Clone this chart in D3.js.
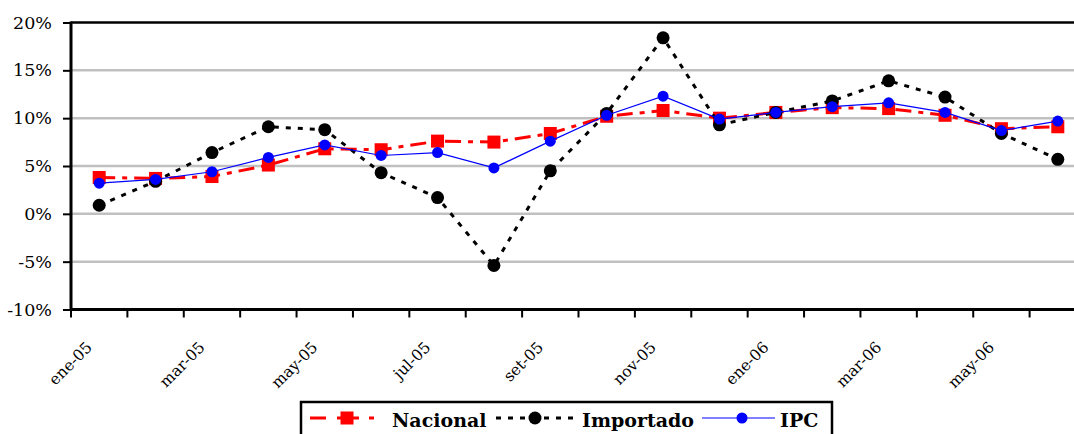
<!DOCTYPE html>
<html><head><meta charset="utf-8">
<script src="https://cdn.jsdelivr.net/npm/d3@7"></script>
<style>body{margin:0;background:#fff}svg{display:block}</style>
</head><body>
<script>
const months = ["ene-05","feb-05","mar-05","abr-05","may-05","jun-05","jul-05","ago-05","set-05","oct-05","nov-05","dic-05","ene-06","feb-06","mar-06","abr-06","may-06","jun-06"];
const tickLabels = ["ene-05","mar-05","may-05","jul-05","set-05","nov-05","ene-06","mar-06","may-06"];
const nacional = [3.8,3.7,3.9,5.1,6.8,6.7,7.6,7.5,8.4,10.2,10.8,10.0,10.6,11.1,11.0,10.3,8.9,9.1];
const importado = [0.9,3.4,6.4,9.1,8.8,4.3,1.7,-5.4,4.5,10.5,18.4,9.3,10.6,11.8,13.9,12.2,8.4,5.7];
const ipc = [3.2,3.6,4.4,5.9,7.2,6.1,6.4,4.8,7.6,10.3,12.3,9.9,10.6,11.2,11.6,10.6,8.7,9.7];
const yTicks = [-10,-5,0,5,10,15,20];
const seriesNames = ["Nacional","Importado","IPC"];

const W=1074,H=434;
const FONT="DejaVu Serif";
const svg=d3.select("body").append("svg").attr("width",W).attr("height",H);
const x=d3.scaleBand().domain(months).range([71,1086]);
const y=d3.scaleLinear().domain([-10,20]).range([309.5,22.5]);

svg.append("g").selectAll("line").data(yTicks.filter(d=>d>-10&&d<20)).join("line")
  .attr("x1",71).attr("x2",W).attr("y1",d=>y(d)).attr("y2",d=>y(d))
  .attr("stroke","#c0c0c0").attr("stroke-width",2.5);
svg.append("line").attr("x1",71).attr("x2",W).attr("y1",y(20)).attr("y2",y(20)).attr("stroke","#000").attr("stroke-width",2.5);

const yAxis=svg.append("g").attr("transform","translate(71,0)")
  .call(d3.axisLeft(y).tickValues(yTicks).tickSize(8).tickFormat(d=>d+"%"));
yAxis.attr("font-family",FONT);
yAxis.select(".domain").attr("stroke-width",3).attr("d",`M0,${y(20)-1}V${y(-10)+1.5}`);
yAxis.selectAll(".tick line").attr("stroke-width",2);
yAxis.selectAll("text").attr("font-size",17.5).attr("fill","#000").attr("x",-19);

const bounds=months.map(m=>x(m)).concat([x.range()[1]]);
const xg=svg.append("g");
xg.append("line").attr("x1",70).attr("x2",W).attr("y1",y(-10)).attr("y2",y(-10)).attr("stroke","#000").attr("stroke-width",3);
xg.selectAll("line.t").data(bounds).join("line").attr("class","t")
  .attr("x1",d=>d).attr("x2",d=>d).attr("y1",y(-10)).attr("y2",y(-10)+8).attr("stroke","#000").attr("stroke-width",2);
xg.selectAll("text").data(tickLabels).join("text")
  .attr("transform",d=>`translate(${x(d)+x.bandwidth()/2-10},${y(-10)+35}) rotate(-45)`)
  .attr("text-anchor","end").attr("font-size",15.5).attr("dy","0.35em")
  .attr("font-family",FONT)
  .text(d=>d);

const cx=m=>x(m)+x.bandwidth()/2;
const line=d3.line().x((d,i)=>cx(months[i])).y(d=>y(d));

svg.append("path").datum(nacional).attr("d",line).attr("fill","none").attr("stroke","#ff0000")
  .attr("stroke-width",3).attr("stroke-dasharray","16,7,5,7");
svg.append("g").selectAll("rect").data(nacional).join("rect")
  .attr("x",(d,i)=>cx(months[i])-6.5).attr("y",d=>y(d)-6.5).attr("width",13).attr("height",13).attr("fill","#ff0000");
svg.append("path").datum(importado).attr("d",line).attr("fill","none").attr("stroke","#000")
  .attr("stroke-width",3).attr("stroke-dasharray","5,7");
svg.append("g").selectAll("circle").data(importado).join("circle")
  .attr("cx",(d,i)=>cx(months[i])).attr("cy",d=>y(d)).attr("r",6.5).attr("fill","#000");
svg.append("path").datum(ipc).attr("d",line).attr("fill","none").attr("stroke","#0000ff").attr("stroke-width",1.2);
svg.append("g").selectAll("circle").data(ipc).join("circle")
  .attr("cx",(d,i)=>cx(months[i])).attr("cy",d=>y(d)).attr("r",5.5).attr("fill","#0000ff");

const lg=svg.append("g");
lg.append("rect").attr("x",301).attr("y",402).attr("width",531).attr("height",40).attr("fill","#fff").attr("stroke","#000").attr("stroke-width",2.5);
const ly=418;
const textX=[392,582,780];
lg.append("line").attr("x1",310).attr("x2",387).attr("y1",ly).attr("y2",ly).attr("stroke","#ff0000").attr("stroke-width",3).attr("stroke-dasharray","16,11,22,10,5");
lg.append("rect").attr("x",347-6.5).attr("y",ly-6.5).attr("width",13).attr("height",13).attr("fill","#ff0000");
lg.append("line").attr("x1",496).attr("x2",577).attr("y1",ly).attr("y2",ly).attr("stroke","#000").attr("stroke-width",3).attr("stroke-dasharray","5,7");
lg.append("circle").attr("cx",535).attr("cy",ly).attr("r",6.5).attr("fill","#000");
lg.append("line").attr("x1",702).attr("x2",775).attr("y1",ly).attr("y2",ly).attr("stroke","#0000ff").attr("stroke-width",1.2);
lg.append("circle").attr("cx",742).attr("cy",ly).attr("r",5.5).attr("fill","#0000ff");
lg.selectAll("text").data(seriesNames).join("text").attr("x",(d,i)=>textX[i]).attr("y",427)
  .attr("font-family",FONT)
  .attr("font-weight","bold").attr("font-size",19).text(d=>d);
</script>
</body></html>
